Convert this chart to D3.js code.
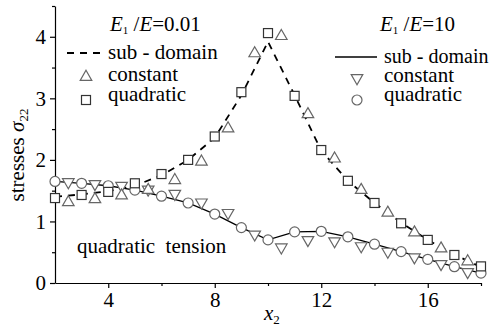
<!DOCTYPE html>
<html>
<head>
<meta charset="utf-8">
<script src="https://cdn.jsdelivr.net/npm/d3@7/dist/d3.min.js"></script>
</head>
<body style="margin:0">
<svg id="chart" width="491" height="328"></svg>
<script>
// Stress sigma_22 along x_2 for two stiffness ratios E1/E
const xInt = [2,3,4,5,6,7,8,9,10,11,12,13,14,15,16,17,18];
const xHalf = [2.5,3.5,4.5,5.5,6.5,7.5,8.5,9.5,10.5,11.5,12.5,13.5,14.5,15.5,16.5,17.5];

// E1/E = 0.01
const soft_subdomain = [1.40,1.44,1.49,1.58,1.75,2.00,2.36,3.05,3.92,3.05,2.15,1.66,1.30,0.98,0.70,0.46,0.26];
const soft_constant  = [1.31,1.36,1.42,1.51,1.67,1.97,2.51,3.73,4.01,2.74,2.02,1.51,1.14,0.82,0.56,0.35];
const soft_quadratic = [1.38,1.43,1.48,1.62,1.77,2.00,2.38,3.10,4.06,3.04,2.16,1.66,1.30,0.97,0.70,0.455,0.27];

// E1/E = 10
const stiff_subdomain = [1.65,1.62,1.58,1.51,1.41,1.30,1.12,0.90,0.70,0.83,0.84,0.75,0.63,0.51,0.385,0.265,0.16];
const stiff_constant  = [1.64,1.61,1.58,1.52,1.45,1.31,1.14,0.79,0.58,0.70,0.68,0.60,0.51,0.42,0.31,0.18];
const stiff_quadratic = [1.65,1.62,1.58,1.51,1.41,1.30,1.12,0.90,0.70,0.83,0.84,0.75,0.63,0.51,0.385,0.265,0.16];

const xMajor = [4,8,12,16];
const xMinor = [6,10,14,18];
const yMajor = [0,1,2,3,4];
const yMinor = [0.5,1.5,2.5,3.5,4.5];

const FONT = '"Liberation Serif"';
const FS = 21;

const svg = d3.select("#chart");
const x = d3.scaleLinear().domain([2,18]).range([55,481]);
const y = d3.scaleLinear().domain([0,4.5]).range([283,6]);

// axes
const gx = svg.append("g").attr("transform","translate(0,283)");
gx.call(d3.axisBottom(x).tickValues(xMajor).tickSize(5).tickSizeOuter(0).tickPadding(4).tickFormat(d3.format("d")));
gx.append("g").call(d3.axisBottom(x).tickValues(xMinor).tickSize(3).tickSizeOuter(0).tickFormat(""))
  .select(".domain").remove();
const gy = svg.append("g").attr("transform","translate(55,0)");
gy.call(d3.axisLeft(y).tickValues(yMajor).tickSize(5).tickSizeOuter(0).tickPadding(4).tickFormat(d3.format("d")));
gy.append("g").call(d3.axisLeft(y).tickValues(yMinor).tickSize(3).tickSizeOuter(0).tickFormat(""))
  .select(".domain").remove();
svg.selectAll(".tick text").style("font-family",FONT).attr("font-size",FS).attr("fill","#000");
svg.selectAll(".domain, .tick line").attr("stroke","#000").attr("stroke-width",1.2);

// curves
const lineInt = d3.line().x((d,i)=>x(xInt[i])).y(d=>y(d));
svg.append("path").datum(soft_subdomain).attr("d",lineInt)
  .attr("fill","none").attr("stroke","#000").attr("stroke-width",1.8).attr("stroke-dasharray","7,6");
svg.append("path").datum(stiff_subdomain).attr("d",lineInt)
  .attr("fill","none").attr("stroke","#000").attr("stroke-width",1.3);

// marker shapes
const triUp = d3.symbol().type(d3.symbolTriangle).size(58);
function drawTri(g, cx, cy, down, color) {
  g.append("path").attr("d",triUp())
    .attr("transform",`translate(${cx},${cy})${down ? " rotate(180)" : ""}`)
    .attr("fill","#fff").attr("stroke",color).attr("stroke-width",1.2);
}
function drawSquare(g, cx, cy, color) {
  g.append("rect").attr("x",cx-4.5).attr("y",cy-4.5).attr("width",9).attr("height",9)
    .attr("fill","#fff").attr("stroke",color).attr("stroke-width",1.2);
}
function drawCircle(g, cx, cy, color) {
  g.append("circle").attr("cx",cx).attr("cy",cy).attr("r",5)
    .attr("fill","#fff").attr("stroke",color).attr("stroke-width",1.2);
}

const marks = svg.append("g");
const gray = "#666", dark = "#333";
stiff_constant.forEach((v,i)=>drawTri(marks, x(xHalf[i]), y(v), true, gray));
soft_constant.forEach((v,i)=>drawTri(marks, x(xHalf[i]), y(v), false, gray));
stiff_quadratic.forEach((v,i)=>drawCircle(marks, x(xInt[i]), y(v), gray));
soft_quadratic.forEach((v,i)=>drawSquare(marks, x(xInt[i]), y(v), dark));

// labels
function txt(tx, ty, s, size) {
  return svg.append("text").attr("x",tx).attr("y",ty).attr("font-size",size || FS)
    .style("font-family",FONT).text(s);
}
function ratioLabel(tx, ty, value) {
  const t = txt(tx, ty, "");
  t.append("tspan").attr("font-style","italic").text("E");
  t.append("tspan").attr("font-size",11).attr("dy",3).text("1");
  t.append("tspan").attr("dy",-3).text(" /");
  t.append("tspan").attr("font-style","italic").text("E");
  t.append("tspan").text("=" + value);
}
ratioLabel(110, 31, "0.01");
ratioLabel(380, 31, "10");

txt(108, 59, "sub - domain");
txt(108, 81, "constant");
txt(108, 101, "quadratic");
txt(384, 63, "sub - domain", 20);
txt(384, 82, "constant");
txt(384, 101, "quadratic");

svg.append("line").attr("x1",67).attr("x2",100).attr("y1",53).attr("y2",53)
  .attr("stroke","#000").attr("stroke-width",1.8).attr("stroke-dasharray","7,6");
drawTri(svg, 86, 77, false, gray);
drawSquare(svg, 86, 100, dark);
svg.append("line").attr("x1",335).attr("x2",377).attr("y1",57).attr("y2",57)
  .attr("stroke","#000").attr("stroke-width",1.3);
drawTri(svg, 357, 78, true, gray);
drawCircle(svg, 357, 100, gray);

txt(77, 253, "quadratic\u00a0\u00a0tension");

// axis titles
const xt = txt(264, 320, "");
xt.append("tspan").attr("font-style","italic").text("x");
xt.append("tspan").attr("font-size",13).attr("dy",4).text("2");

const yt = svg.append("text").attr("transform","translate(24,155) rotate(-90)")
  .attr("text-anchor","middle").attr("font-size",FS).style("font-family",FONT);
yt.append("tspan").text("stresses ");
yt.append("tspan").attr("font-style","italic").text("σ");
yt.append("tspan").attr("font-size",13).attr("dy",4).text("22");
</script>
</body>
</html>
